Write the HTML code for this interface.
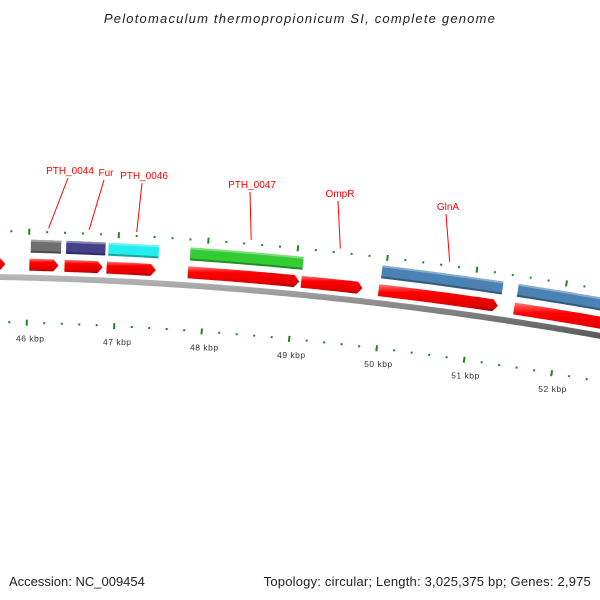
<!DOCTYPE html>
<html><head><meta charset="utf-8"><style>
body{margin:0;background:#fff}
svg{display:block;font-family:"Liberation Sans","DejaVu Sans",sans-serif}
</style></head><body>
<svg id="c" width="600" height="600" viewBox="0 0 600 600">
<defs>
<linearGradient id="gr" x1="0" y1="0" x2="0" y2="1"><stop offset="0" stop-color="#ff7a7a"/><stop offset="0.3" stop-color="#ff0000"/><stop offset="0.8" stop-color="#e00000"/><stop offset="1" stop-color="#a00000"/></linearGradient>
<linearGradient id="gb" x1="0" y1="0" x2="0" y2="1"><stop offset="0" stop-color="#bbb"/><stop offset="0.5" stop-color="#888"/><stop offset="1" stop-color="#555"/></linearGradient>
</defs>
<text x="300" y="23" text-anchor="middle" font-size="13" letter-spacing="1.2" font-style="italic" fill="#222">Pelotomaculum thermopropionicum SI, complete genome</text>
<text x="9" y="586" font-size="13" fill="#222">Accession: NC_009454</text>
<text x="591" y="586" text-anchor="end" font-size="13" letter-spacing="0.2" fill="#222">Topology: circular; Length: 3,025,375 bp; Genes: 2,975</text>
<g id="g"></g>
</svg>
<script>
const geneNames=["","PTH_0044","Fur","PTH_0046","PTH_0047","OmpR","GlnA",""];
const geneStarts=[45600,46011,46407,46881,47797,49073,49944,51469];
const geneEnds=[45740,46339,46836,47435,49051,49763,51288,53100];
const geneColors=["","#6e6e6e","#45408a","#22eeee","#33cc33","","#4a82b4","#4a82b4"];
const tickLabels=["46 kbp","47 kbp","48 kbp","49 kbp","50 kbp","51 kbp","52 kbp"];
const tickValues=[46000,47000,48000,49000,50000,51000,52000];
const labelPos=[null,[70,174,47],[106,176,87],[144,179,134],[252,188,247],[340,197,335],[448,210,443],null];

const NS="http://www.w3.org/2000/svg";
const G=document.getElementById('g');
function X(bp){return 28+(bp-46000)*0.0885;}
function f(x){return 277+0.02*x+0.00013*x*x;}
function fp(x){return 0.02+0.00026*x;}
function P(x,d){const s=fp(x),n=Math.sqrt(1+s*s);return [x-s*d/n,f(x)+d/n];}
function mk(t,a){const e=document.createElementNS(NS,t);for(const k in a)e.setAttribute(k,a[k]);G.appendChild(e);return e;}
function band(x1,x2,d1,d2){const pts=[];for(let x=x1;x<=x2;x+=4)pts.push(P(Math.min(x,x2),d1));pts.push(P(x2,d1));pts.push(P(x2,d2));for(let x=x2;x>=x1;x-=4)pts.push(P(x,d2));pts.push(P(x1,d2));return pts.map(p=>p[0].toFixed(1)+','+p[1].toFixed(1)).join(' ');}

let bb=mk('polygon',{points:band(-10,610,-3,3),fill:'url(#gb)'});



for(let bp=45200;bp<=53400;bp+=200){
  const x=X(bp),major=(bp%1000===0);
  for(const d of [-46,45]){
    const a=P(x,d-(major?3:1)),b=P(x,d+(major?3:1));
    const t=mk('line',{x1:a[0],y1:a[1],x2:b[0],y2:b[1],stroke:'#1a8a1a','stroke-width':2});
    
    
  }
}
tickValues.forEach((v,i)=>{
  const p=P(X(v),64);
  const t=mk('text',{x:p[0]+4,y:p[1],'font-size':8.5,'letter-spacing':0.5,'text-anchor':'middle',fill:'#333'});
  t.textContent=tickLabels[i];
  
  
});

geneStarts.forEach((s,i)=>{
  const x1=X(s),x2=X(geneEnds[i]);
  const pts=[];
  const xe=x2-5;
  for(let x=x1;x<xe;x+=4)pts.push(P(x,-19));
  pts.push(P(xe,-19));pts.push(P(x2,-13));pts.push(P(xe,-7));
  for(let x=xe;x>x1;x-=4)pts.push(P(x,-7));
  pts.push(P(x1,-7));
  const a=mk('polygon',{points:pts.map(p=>p[0].toFixed(1)+','+p[1].toFixed(1)).join(' '),fill:'url(#gr)'});
  
  
  if(geneColors[i]){
    const b=mk('polygon',{points:band(x1+1,x2+2,-38,-25),fill:geneColors[i]});
    
    
    const h=mk('polygon',{points:band(x1+1,x2+2,-38,-36),fill:'#fff','fill-opacity':0.35});
    
    
    const sh=mk('polygon',{points:band(x1+1,x2+2,-27,-25),fill:'#000','fill-opacity':0.3});
    
    
  }
  if(geneNames[i]){
    const lp=labelPos[i];
    const e=P(lp[2],-50);
    const l=mk('line',{x1:lp[0]-2,y1:lp[1]+4,x2:e[0],y2:e[1],stroke:'#f00','stroke-width':1});
    
    
    const t=mk('text',{x:lp[0],y:lp[1],'text-anchor':'middle','font-size':10,fill:'#f00'});
    t.textContent=geneNames[i];
    
    
  }
});
</script>
</body></html>
